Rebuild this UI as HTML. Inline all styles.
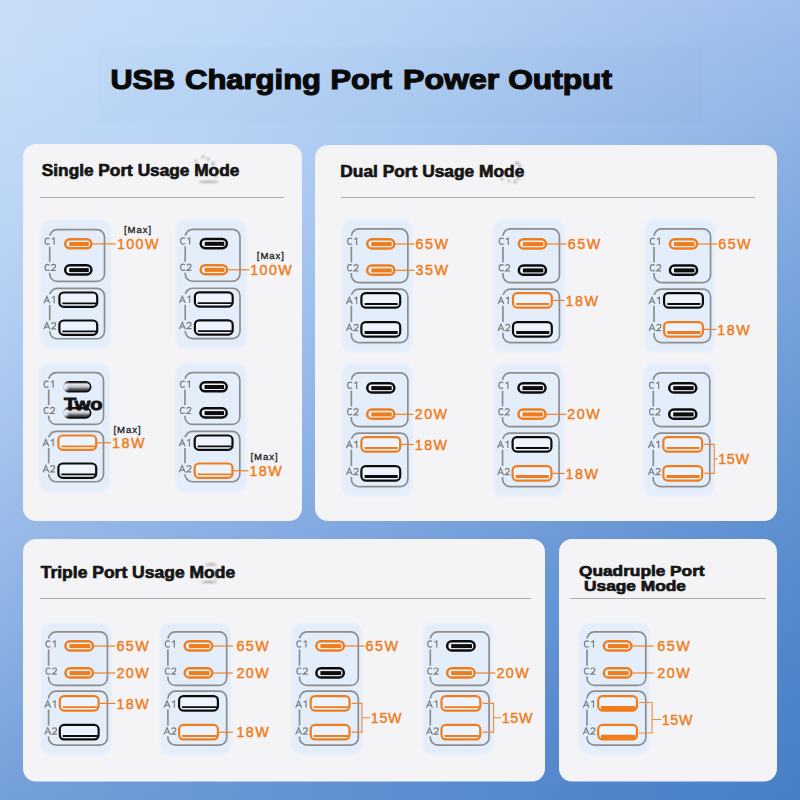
<!DOCTYPE html><html><head><meta charset="utf-8"><style>
html,body{margin:0;padding:0;width:800px;height:800px;overflow:hidden;}
body{background:#87ade0;position:relative;}
.bg{position:absolute;left:0;width:800px;}
svg{position:absolute;left:0;top:0;font-family:"Liberation Sans", sans-serif;}
</style></head><body>
<div class="bg" style="top:0px;height:8px;background:linear-gradient(90deg,#c7dcf8 0.0%,#c1d9f8 25.0%,#b7d2f5 50.0%,#abc8ef 75.0%,#9fbeeb 100.0%)"></div>
<div class="bg" style="top:8px;height:8px;background:linear-gradient(90deg,#c7dcf8 0.0%,#c1d9f8 25.0%,#b6d1f4 50.0%,#aac7ef 75.0%,#9ebdea 100.0%)"></div>
<div class="bg" style="top:16px;height:8px;background:linear-gradient(90deg,#c7dcf8 0.0%,#c0d9f8 25.0%,#b6d1f4 50.0%,#a9c7ef 75.0%,#9dbdea 100.0%)"></div>
<div class="bg" style="top:24px;height:8px;background:linear-gradient(90deg,#c7dcf8 0.0%,#c0d8f8 25.0%,#b5d0f4 50.0%,#a8c6ee 75.0%,#9bbce9 100.0%)"></div>
<div class="bg" style="top:32px;height:8px;background:linear-gradient(90deg,#c6dcf8 0.0%,#bfd8f8 25.0%,#b4d0f4 50.0%,#a7c6ee 75.0%,#9abbe9 100.0%)"></div>
<div class="bg" style="top:40px;height:8px;background:linear-gradient(90deg,#c6dcf8 0.0%,#bed8f8 25.0%,#b3d0f3 50.0%,#a6c5ee 75.0%,#99bae8 100.0%)"></div>
<div class="bg" style="top:48px;height:8px;background:linear-gradient(90deg,#c6dcf8 0.0%,#bed7f7 25.0%,#b2cff3 50.0%,#a5c4ed 75.0%,#98bae8 100.0%)"></div>
<div class="bg" style="top:56px;height:8px;background:linear-gradient(90deg,#c5dbf8 0.0%,#bdd7f7 25.0%,#b2cef3 50.0%,#a4c4ed 75.0%,#97b9e8 100.0%)"></div>
<div class="bg" style="top:64px;height:8px;background:linear-gradient(90deg,#c5dbf8 0.0%,#bdd7f7 25.0%,#b1cef3 50.0%,#a3c3ed 75.0%,#96b8e7 100.0%)"></div>
<div class="bg" style="top:72px;height:8px;background:linear-gradient(90deg,#c4dbf8 0.0%,#bcd6f7 25.0%,#b0cdf2 50.0%,#a2c3ec 75.0%,#95b8e7 100.0%)"></div>
<div class="bg" style="top:80px;height:8px;background:linear-gradient(90deg,#c4dbf8 0.0%,#bbd6f7 25.0%,#afcdf2 50.0%,#a2c2ec 75.0%,#94b7e6 100.0%)"></div>
<div class="bg" style="top:88px;height:8px;background:linear-gradient(90deg,#c4dbf8 0.0%,#bbd5f6 25.0%,#aeccf2 50.0%,#a1c1eb 75.0%,#93b6e6 100.0%)"></div>
<div class="bg" style="top:96px;height:8px;background:linear-gradient(90deg,#c3daf7 0.0%,#bad5f6 25.0%,#aeccf1 50.0%,#a0c1eb 75.0%,#92b5e6 100.0%)"></div>
<div class="bg" style="top:104px;height:8px;background:linear-gradient(90deg,#c3daf7 0.0%,#b9d5f6 25.0%,#adcbf1 50.0%,#9fc0eb 75.0%,#91b5e5 100.0%)"></div>
<div class="bg" style="top:112px;height:8px;background:linear-gradient(90deg,#c2daf7 0.0%,#b9d4f6 25.0%,#accbf1 50.0%,#9ebfea 75.0%,#8fb4e5 100.0%)"></div>
<div class="bg" style="top:120px;height:8px;background:linear-gradient(90deg,#c2d9f7 0.0%,#b8d4f6 25.0%,#abcaf1 50.0%,#9dbfea 75.0%,#8eb3e4 100.0%)"></div>
<div class="bg" style="top:128px;height:8px;background:linear-gradient(90deg,#c1d9f7 0.0%,#b7d3f5 25.0%,#aac9f0 50.0%,#9cbeea 75.0%,#8db3e4 100.0%)"></div>
<div class="bg" style="top:136px;height:8px;background:linear-gradient(90deg,#c1d9f7 0.0%,#b7d3f5 25.0%,#a9c9f0 50.0%,#9bbde9 75.0%,#8cb2e3 100.0%)"></div>
<div class="bg" style="top:144px;height:8px;background:linear-gradient(90deg,#c0d8f7 0.0%,#b6d2f5 25.0%,#a9c8f0 50.0%,#9abce9 75.0%,#8bb1e3 100.0%)"></div>
<div class="bg" style="top:152px;height:8px;background:linear-gradient(90deg,#c0d8f7 0.0%,#b5d2f5 25.0%,#a8c7ef 50.0%,#99bce8 75.0%,#8ab0e3 100.0%)"></div>
<div class="bg" style="top:160px;height:8px;background:linear-gradient(90deg,#bfd8f6 0.0%,#b5d1f4 25.0%,#a7c7ef 50.0%,#98bbe8 75.0%,#89b0e2 100.0%)"></div>
<div class="bg" style="top:168px;height:8px;background:linear-gradient(90deg,#bed7f6 0.0%,#b4d0f4 25.0%,#a6c6ef 50.0%,#97bae8 75.0%,#88afe2 100.0%)"></div>
<div class="bg" style="top:176px;height:8px;background:linear-gradient(90deg,#bed7f6 0.0%,#b3d0f4 25.0%,#a5c5ee 50.0%,#96bae7 75.0%,#87aee1 100.0%)"></div>
<div class="bg" style="top:184px;height:8px;background:linear-gradient(90deg,#bdd6f6 0.0%,#b2cff4 25.0%,#a4c5ee 50.0%,#95b9e7 75.0%,#86ade1 100.0%)"></div>
<div class="bg" style="top:192px;height:8px;background:linear-gradient(90deg,#bdd6f6 0.0%,#b2cff3 25.0%,#a3c4ee 50.0%,#94b8e7 75.0%,#85ace0 100.0%)"></div>
<div class="bg" style="top:200px;height:8px;background:linear-gradient(90deg,#bcd6f6 0.0%,#b1cef3 25.0%,#a2c3ed 50.0%,#93b7e6 75.0%,#84ace0 100.0%)"></div>
<div class="bg" style="top:208px;height:8px;background:linear-gradient(90deg,#bbd5f5 0.0%,#b0cef3 25.0%,#a2c3ed 50.0%,#92b7e6 75.0%,#83abe0 100.0%)"></div>
<div class="bg" style="top:216px;height:8px;background:linear-gradient(90deg,#bbd5f5 0.0%,#afcdf3 25.0%,#a1c2ed 50.0%,#91b6e5 75.0%,#81aadf 100.0%)"></div>
<div class="bg" style="top:224px;height:8px;background:linear-gradient(90deg,#bad4f5 0.0%,#aeccf2 25.0%,#a0c1ec 50.0%,#90b5e5 75.0%,#80a9df 100.0%)"></div>
<div class="bg" style="top:232px;height:8px;background:linear-gradient(90deg,#b9d4f5 0.0%,#aeccf2 25.0%,#9fc1ec 50.0%,#8fb4e5 75.0%,#7fa9de 100.0%)"></div>
<div class="bg" style="top:240px;height:8px;background:linear-gradient(90deg,#b9d3f4 0.0%,#adcbf2 25.0%,#9ec0ec 50.0%,#8eb4e4 75.0%,#7ea8de 100.0%)"></div>
<div class="bg" style="top:248px;height:8px;background:linear-gradient(90deg,#b8d3f4 0.0%,#accaf1 25.0%,#9dbfeb 50.0%,#8db3e4 75.0%,#7da7dd 100.0%)"></div>
<div class="bg" style="top:256px;height:8px;background:linear-gradient(90deg,#b7d2f4 0.0%,#abcaf1 25.0%,#9cbeeb 50.0%,#8cb2e3 75.0%,#7ca6dd 100.0%)"></div>
<div class="bg" style="top:264px;height:8px;background:linear-gradient(90deg,#b7d1f4 0.0%,#aac9f1 25.0%,#9bbeea 50.0%,#8bb1e3 75.0%,#7ba6dd 100.0%)"></div>
<div class="bg" style="top:272px;height:8px;background:linear-gradient(90deg,#b6d1f3 0.0%,#a9c8f0 25.0%,#9abdea 50.0%,#8ab0e3 75.0%,#7aa5dc 100.0%)"></div>
<div class="bg" style="top:280px;height:8px;background:linear-gradient(90deg,#b5d0f3 0.0%,#a9c8f0 25.0%,#99bcea 50.0%,#89b0e2 75.0%,#79a4dc 100.0%)"></div>
<div class="bg" style="top:288px;height:8px;background:linear-gradient(90deg,#b4d0f3 0.0%,#a8c7f0 25.0%,#98bbe9 50.0%,#88afe2 75.0%,#78a3db 100.0%)"></div>
<div class="bg" style="top:296px;height:8px;background:linear-gradient(90deg,#b3cff3 0.0%,#a7c6ef 25.0%,#97bbe9 50.0%,#87aee1 75.0%,#77a3db 100.0%)"></div>
<div class="bg" style="top:304px;height:8px;background:linear-gradient(90deg,#b3cff2 0.0%,#a6c6ef 25.0%,#96bae9 50.0%,#86ade1 75.0%,#76a2db 100.0%)"></div>
<div class="bg" style="top:312px;height:8px;background:linear-gradient(90deg,#b2cef2 0.0%,#a5c5ef 25.0%,#95b9e8 50.0%,#85ade1 75.0%,#75a1da 100.0%)"></div>
<div class="bg" style="top:320px;height:8px;background:linear-gradient(90deg,#b1cdf2 0.0%,#a4c4ee 25.0%,#94b8e8 50.0%,#84ace0 75.0%,#74a0da 100.0%)"></div>
<div class="bg" style="top:328px;height:8px;background:linear-gradient(90deg,#b0cdf2 0.0%,#a3c4ee 25.0%,#94b8e7 50.0%,#83abe0 75.0%,#73a0d9 100.0%)"></div>
<div class="bg" style="top:336px;height:8px;background:linear-gradient(90deg,#afccf1 0.0%,#a2c3ee 25.0%,#93b7e7 50.0%,#82aadf 75.0%,#729fd9 100.0%)"></div>
<div class="bg" style="top:344px;height:8px;background:linear-gradient(90deg,#afcbf1 0.0%,#a1c2ed 25.0%,#92b6e7 50.0%,#81a9df 75.0%,#719ed8 100.0%)"></div>
<div class="bg" style="top:352px;height:8px;background:linear-gradient(90deg,#aecbf1 0.0%,#a1c1ed 25.0%,#91b5e6 50.0%,#80a9df 75.0%,#709dd8 100.0%)"></div>
<div class="bg" style="top:360px;height:8px;background:linear-gradient(90deg,#adcaf0 0.0%,#a0c1ed 25.0%,#90b5e6 50.0%,#7fa8de 75.0%,#6f9dd8 100.0%)"></div>
<div class="bg" style="top:368px;height:8px;background:linear-gradient(90deg,#acc9f0 0.0%,#9fc0ec 25.0%,#8fb4e6 50.0%,#7ea7de 75.0%,#6e9cd7 100.0%)"></div>
<div class="bg" style="top:376px;height:8px;background:linear-gradient(90deg,#abc9f0 0.0%,#9ebfec 25.0%,#8eb3e5 50.0%,#7da6dd 75.0%,#6d9bd7 100.0%)"></div>
<div class="bg" style="top:384px;height:8px;background:linear-gradient(90deg,#aac8ef 0.0%,#9dbeec 25.0%,#8db2e5 50.0%,#7ca6dd 75.0%,#6c9ad6 100.0%)"></div>
<div class="bg" style="top:392px;height:8px;background:linear-gradient(90deg,#a9c7ef 0.0%,#9cbeeb 25.0%,#8cb1e4 50.0%,#7ba5dd 75.0%,#6b9ad6 100.0%)"></div>
<div class="bg" style="top:400px;height:8px;background:linear-gradient(90deg,#a8c7ef 0.0%,#9bbdeb 25.0%,#8bb1e4 50.0%,#7aa4dc 75.0%,#6a99d6 100.0%)"></div>
<div class="bg" style="top:408px;height:8px;background:linear-gradient(90deg,#a8c6ee 0.0%,#9abcea 25.0%,#8ab0e4 50.0%,#79a3dc 75.0%,#6998d5 100.0%)"></div>
<div class="bg" style="top:416px;height:8px;background:linear-gradient(90deg,#a7c5ee 0.0%,#99bbea 25.0%,#89afe3 50.0%,#78a2db 75.0%,#6897d5 100.0%)"></div>
<div class="bg" style="top:424px;height:8px;background:linear-gradient(90deg,#a6c4ee 0.0%,#98baea 25.0%,#88aee3 50.0%,#77a2db 75.0%,#6897d5 100.0%)"></div>
<div class="bg" style="top:432px;height:8px;background:linear-gradient(90deg,#a5c4ed 0.0%,#97bae9 25.0%,#87ade2 50.0%,#76a1db 75.0%,#6796d4 100.0%)"></div>
<div class="bg" style="top:440px;height:8px;background:linear-gradient(90deg,#a4c3ed 0.0%,#96b9e9 25.0%,#86ade2 50.0%,#75a0da 75.0%,#6695d4 100.0%)"></div>
<div class="bg" style="top:448px;height:8px;background:linear-gradient(90deg,#a3c2ec 0.0%,#95b8e8 25.0%,#85ace2 50.0%,#749fda 75.0%,#6595d3 100.0%)"></div>
<div class="bg" style="top:456px;height:8px;background:linear-gradient(90deg,#a2c2ec 0.0%,#94b7e8 25.0%,#84abe1 50.0%,#739fd9 75.0%,#6494d3 100.0%)"></div>
<div class="bg" style="top:464px;height:8px;background:linear-gradient(90deg,#a1c1ec 0.0%,#93b7e8 25.0%,#83aae1 50.0%,#729ed9 75.0%,#6393d3 100.0%)"></div>
<div class="bg" style="top:472px;height:8px;background:linear-gradient(90deg,#a0c0eb 0.0%,#92b6e7 25.0%,#82a9e0 50.0%,#719dd9 75.0%,#6293d2 100.0%)"></div>
<div class="bg" style="top:480px;height:8px;background:linear-gradient(90deg,#9fbfeb 0.0%,#91b5e7 25.0%,#81a9e0 50.0%,#709cd8 75.0%,#6192d2 100.0%)"></div>
<div class="bg" style="top:488px;height:8px;background:linear-gradient(90deg,#9ebeeb 0.0%,#90b4e6 25.0%,#80a8df 50.0%,#709cd8 75.0%,#6091d2 100.0%)"></div>
<div class="bg" style="top:496px;height:8px;background:linear-gradient(90deg,#9dbeea 0.0%,#8fb3e6 25.0%,#7fa7df 50.0%,#6f9bd7 75.0%,#6091d1 100.0%)"></div>
<div class="bg" style="top:504px;height:8px;background:linear-gradient(90deg,#9cbdea 0.0%,#8eb3e6 25.0%,#7ea6df 50.0%,#6e9ad7 75.0%,#5f90d1 100.0%)"></div>
<div class="bg" style="top:512px;height:8px;background:linear-gradient(90deg,#9bbce9 0.0%,#8db2e5 25.0%,#7da5de 50.0%,#6d99d7 75.0%,#5e8fd0 100.0%)"></div>
<div class="bg" style="top:520px;height:8px;background:linear-gradient(90deg,#9abbe9 0.0%,#8cb1e5 25.0%,#7ca5de 50.0%,#6c99d6 75.0%,#5d8fd0 100.0%)"></div>
<div class="bg" style="top:528px;height:8px;background:linear-gradient(90deg,#99bbe8 0.0%,#8bb0e4 25.0%,#7ba4dd 50.0%,#6b98d6 75.0%,#5c8ed0 100.0%)"></div>
<div class="bg" style="top:536px;height:8px;background:linear-gradient(90deg,#98bae8 0.0%,#8aafe4 25.0%,#7aa3dd 50.0%,#6a97d5 75.0%,#5b8ecf 100.0%)"></div>
<div class="bg" style="top:544px;height:8px;background:linear-gradient(90deg,#97b9e8 0.0%,#89aee3 25.0%,#79a2dd 50.0%,#6997d5 75.0%,#5b8dcf 100.0%)"></div>
<div class="bg" style="top:552px;height:8px;background:linear-gradient(90deg,#96b8e7 0.0%,#88aee3 25.0%,#78a2dc 50.0%,#6896d5 75.0%,#5a8ccf 100.0%)"></div>
<div class="bg" style="top:560px;height:8px;background:linear-gradient(90deg,#95b7e7 0.0%,#87ade3 25.0%,#77a1dc 50.0%,#6795d4 75.0%,#598cce 100.0%)"></div>
<div class="bg" style="top:568px;height:8px;background:linear-gradient(90deg,#93b7e6 0.0%,#86ace2 25.0%,#76a0db 50.0%,#6694d4 75.0%,#588bce 100.0%)"></div>
<div class="bg" style="top:576px;height:8px;background:linear-gradient(90deg,#92b6e6 0.0%,#85abe2 25.0%,#759fdb 50.0%,#6694d3 75.0%,#588bce 100.0%)"></div>
<div class="bg" style="top:584px;height:8px;background:linear-gradient(90deg,#91b5e5 0.0%,#84aae1 25.0%,#749fda 50.0%,#6593d3 75.0%,#578acd 100.0%)"></div>
<div class="bg" style="top:592px;height:8px;background:linear-gradient(90deg,#90b4e5 0.0%,#83aae1 25.0%,#739eda 50.0%,#6492d3 75.0%,#568acd 100.0%)"></div>
<div class="bg" style="top:600px;height:8px;background:linear-gradient(90deg,#8fb3e4 0.0%,#82a9e0 25.0%,#729dda 50.0%,#6392d2 75.0%,#5589cd 100.0%)"></div>
<div class="bg" style="top:608px;height:8px;background:linear-gradient(90deg,#8eb2e4 0.0%,#81a8e0 25.0%,#719cd9 50.0%,#6291d2 75.0%,#5589cc 100.0%)"></div>
<div class="bg" style="top:616px;height:8px;background:linear-gradient(90deg,#8db2e4 0.0%,#80a7df 25.0%,#709cd9 50.0%,#6190d2 75.0%,#5488cc 100.0%)"></div>
<div class="bg" style="top:624px;height:8px;background:linear-gradient(90deg,#8cb1e3 0.0%,#7ea6df 25.0%,#6f9bd8 50.0%,#6090d1 75.0%,#5388cc 100.0%)"></div>
<div class="bg" style="top:632px;height:8px;background:linear-gradient(90deg,#8bb0e3 0.0%,#7da6df 25.0%,#6e9ad8 50.0%,#608fd1 75.0%,#5287cc 100.0%)"></div>
<div class="bg" style="top:640px;height:8px;background:linear-gradient(90deg,#8aafe2 0.0%,#7ca5de 25.0%,#6e99d8 50.0%,#5f8fd0 75.0%,#5287cb 100.0%)"></div>
<div class="bg" style="top:648px;height:8px;background:linear-gradient(90deg,#88aee2 0.0%,#7ba4de 25.0%,#6d99d7 50.0%,#5e8ed0 75.0%,#5186cb 100.0%)"></div>
<div class="bg" style="top:656px;height:8px;background:linear-gradient(90deg,#87aee1 0.0%,#7aa3dd 25.0%,#6c98d7 50.0%,#5d8dd0 75.0%,#5086cb 100.0%)"></div>
<div class="bg" style="top:664px;height:8px;background:linear-gradient(90deg,#86ade1 0.0%,#79a3dd 25.0%,#6b97d6 50.0%,#5c8dcf 75.0%,#5085ca 100.0%)"></div>
<div class="bg" style="top:672px;height:8px;background:linear-gradient(90deg,#85ace0 0.0%,#78a2dc 25.0%,#6a96d6 50.0%,#5b8ccf 75.0%,#4f85ca 100.0%)"></div>
<div class="bg" style="top:680px;height:8px;background:linear-gradient(90deg,#84abe0 0.0%,#77a1dc 25.0%,#6996d5 50.0%,#5b8ccf 75.0%,#4f84ca 100.0%)"></div>
<div class="bg" style="top:688px;height:8px;background:linear-gradient(90deg,#83aadf 0.0%,#76a0db 25.0%,#6895d5 50.0%,#5a8bce 75.0%,#4e84c9 100.0%)"></div>
<div class="bg" style="top:696px;height:8px;background:linear-gradient(90deg,#81aadf 0.0%,#759fdb 25.0%,#6794d5 50.0%,#598ace 75.0%,#4d84c9 100.0%)"></div>
<div class="bg" style="top:704px;height:8px;background:linear-gradient(90deg,#80a9de 0.0%,#749fda 25.0%,#6694d4 50.0%,#588ace 75.0%,#4d83c9 100.0%)"></div>
<div class="bg" style="top:712px;height:8px;background:linear-gradient(90deg,#7fa8de 0.0%,#739eda 25.0%,#6593d4 50.0%,#5889cd 75.0%,#4c83c9 100.0%)"></div>
<div class="bg" style="top:720px;height:8px;background:linear-gradient(90deg,#7ea7dd 0.0%,#729dd9 25.0%,#6492d3 50.0%,#5789cd 75.0%,#4c82c8 100.0%)"></div>
<div class="bg" style="top:728px;height:8px;background:linear-gradient(90deg,#7da6dd 0.0%,#719cd9 25.0%,#6392d3 50.0%,#5688cd 75.0%,#4b82c8 100.0%)"></div>
<div class="bg" style="top:736px;height:8px;background:linear-gradient(90deg,#7ca5dc 0.0%,#709cd9 25.0%,#6291d3 50.0%,#5588cc 75.0%,#4b82c8 100.0%)"></div>
<div class="bg" style="top:744px;height:8px;background:linear-gradient(90deg,#7aa5dc 0.0%,#6f9bd8 25.0%,#6191d2 50.0%,#5587cc 75.0%,#4a81c8 100.0%)"></div>
<div class="bg" style="top:752px;height:8px;background:linear-gradient(90deg,#79a4db 0.0%,#6e9ad8 25.0%,#6190d2 50.0%,#5487cc 75.0%,#4a81c7 100.0%)"></div>
<div class="bg" style="top:760px;height:8px;background:linear-gradient(90deg,#78a3db 0.0%,#6d99d7 25.0%,#608fd1 50.0%,#5386cb 75.0%,#4981c7 100.0%)"></div>
<div class="bg" style="top:768px;height:8px;background:linear-gradient(90deg,#77a2da 0.0%,#6c99d7 25.0%,#5f8fd1 50.0%,#5386cb 75.0%,#4981c7 100.0%)"></div>
<div class="bg" style="top:776px;height:8px;background:linear-gradient(90deg,#76a1da 0.0%,#6a98d6 25.0%,#5e8ed0 50.0%,#5286cb 75.0%,#4880c7 100.0%)"></div>
<div class="bg" style="top:784px;height:8px;background:linear-gradient(90deg,#75a1d9 0.0%,#6997d6 25.0%,#5d8dd0 50.0%,#5185ca 75.0%,#4880c7 100.0%)"></div>
<div class="bg" style="top:792px;height:8px;background:linear-gradient(90deg,#73a0d8 0.0%,#6897d5 25.0%,#5c8dd0 50.0%,#5185ca 75.0%,#4780c6 100.0%)"></div>
<svg width="800" height="800" viewBox="0 0 800 800">
<defs><filter id="soft" x="-10%" y="-10%" width="120%" height="120%"><feGaussianBlur stdDeviation="1.2"/></filter>
<filter id="blur1" x="-30%" y="-60%" width="160%" height="220%"><feGaussianBlur stdDeviation="1.1"/></filter>
<filter id="blur08" x="-100%" y="-100%" width="300%" height="300%"><feGaussianBlur stdDeviation="0.8"/></filter>
<filter id="blur05" x="-20%" y="-50%" width="140%" height="200%"><feGaussianBlur stdDeviation="0.45"/></filter>
<filter id="blur2" x="-50%" y="-50%" width="200%" height="200%"><feGaussianBlur stdDeviation="2"/></filter>
<linearGradient id="metal" x1="0" y1="0" x2="0" y2="1"><stop offset="0" stop-color="#222"/><stop offset="0.25" stop-color="#e6e6e8"/><stop offset="0.5" stop-color="#c4c4c8"/><stop offset="0.78" stop-color="#4a4a50"/><stop offset="1" stop-color="#1a1a1a"/></linearGradient></defs>
<rect x="99" y="47" width="604" height="75.5" fill="#1a3a70" opacity="0.01"/>
<text x="110.50" y="88.80" font-size="28.4" fill="#0a0a0a" font-weight="bold" text-anchor="start" stroke="#0a0a0a" stroke-width="1.2" textLength="64.5" lengthAdjust="spacingAndGlyphs">USB</text>
<text x="185.00" y="88.80" font-size="28.4" fill="#0a0a0a" font-weight="bold" text-anchor="start" stroke="#0a0a0a" stroke-width="1.2" textLength="136.0" lengthAdjust="spacingAndGlyphs">Charging</text>
<text x="330.50" y="88.80" font-size="28.4" fill="#0a0a0a" font-weight="bold" text-anchor="start" stroke="#0a0a0a" stroke-width="1.2" textLength="61.5" lengthAdjust="spacingAndGlyphs">Port</text>
<text x="403.00" y="88.80" font-size="28.4" fill="#0a0a0a" font-weight="bold" text-anchor="start" stroke="#0a0a0a" stroke-width="1.2" textLength="96.2" lengthAdjust="spacingAndGlyphs">Power</text>
<text x="508.20" y="88.80" font-size="28.4" fill="#0a0a0a" font-weight="bold" text-anchor="start" stroke="#0a0a0a" stroke-width="1.2" textLength="103.8" lengthAdjust="spacingAndGlyphs">Output</text>
<rect x="23.00" y="144.00" width="279.00" height="377.00" rx="13.00" fill="#f4f4f6"/>
<rect x="315.00" y="145.00" width="462.00" height="376.00" rx="13.00" fill="#f4f4f6"/>
<rect x="23.00" y="539.00" width="522.00" height="242.50" rx="13.00" fill="#f4f4f6"/>
<rect x="559.00" y="539.00" width="218.00" height="242.50" rx="13.00" fill="#f4f4f6"/>
<text x="41.80" y="175.80" font-size="15.6" fill="#151515" font-weight="bold" text-anchor="start" id="h1" textLength="197.5" stroke="#151515" stroke-width="0.65" lengthAdjust="spacingAndGlyphs">Single Port Usage Mode</text>
<text x="340.30" y="176.80" font-size="15.6" fill="#151515" font-weight="bold" text-anchor="start" id="h2" textLength="184" stroke="#151515" stroke-width="0.65" lengthAdjust="spacingAndGlyphs">Dual Port Usage Mode</text>
<text x="40.70" y="578.00" font-size="15.6" fill="#151515" font-weight="bold" text-anchor="start" id="h3" textLength="194.5" stroke="#151515" stroke-width="0.65" lengthAdjust="spacingAndGlyphs">Triple Port Usage Mode</text>
<text x="579.10" y="575.60" font-size="14.0" fill="#151515" font-weight="bold" text-anchor="start" id="h4a" textLength="125.5" stroke="#151515" stroke-width="0.65" lengthAdjust="spacingAndGlyphs">Quadruple Port</text>
<text x="584.00" y="590.70" font-size="14.0" fill="#151515" font-weight="bold" text-anchor="start" id="h4b" textLength="102" stroke="#151515" stroke-width="0.65" lengthAdjust="spacingAndGlyphs">Usage Mode</text>
<g stroke="#acacb0" stroke-width="1.1">
<line x1="40" y1="197.5" x2="284" y2="197.5"/>
<line x1="341" y1="197.5" x2="755" y2="197.5"/>
<line x1="40" y1="598.5" x2="531" y2="598.5"/>
<line x1="569.6" y1="598.5" x2="766" y2="598.5"/>
</g>
<g fill="#5a5a5a" filter="url(#blur08)" opacity="0.5">
<ellipse cx="203" cy="157" rx="1.5" ry="1.2"/>
<ellipse cx="208" cy="159" rx="1.5" ry="1.5"/>
<ellipse cx="196" cy="161" rx="1.3" ry="1.3"/>
<ellipse cx="213" cy="164" rx="1.5" ry="2"/>
<ellipse cx="209" cy="181.8" rx="10" ry="1.0"/>
<ellipse cx="216" cy="176" rx="1.2" ry="1.5"/>
<ellipse cx="517" cy="163" rx="2" ry="1.5"/>
<ellipse cx="520" cy="166" rx="1.2" ry="2"/>
<ellipse cx="502" cy="179" rx="1.5" ry="1.2"/>
<ellipse cx="509" cy="181" rx="1.5" ry="1.2"/>
<ellipse cx="515" cy="182" rx="1.5" ry="1.5"/>
<ellipse cx="518" cy="178" rx="1.2" ry="2"/>
<ellipse cx="211" cy="564.5" rx="6" ry="1.2"/>
<ellipse cx="209" cy="582" rx="8" ry="1.2"/>
<ellipse cx="216" cy="574" rx="1" ry="6"/>
</g>
<rect x="40.00" y="220.00" width="71.10" height="129.30" rx="10.00" fill="#e4eefb" filter="url(#soft)"/>
<rect x="49.70" y="229.65" width="54.80" height="51.80" rx="7.50" fill="none" stroke="#8d8d8d" stroke-width="1.7"/>
<rect x="49.70" y="288.45" width="54.80" height="50.30" rx="7.50" fill="none" stroke="#8d8d8d" stroke-width="1.7"/>
<rect x="47.50" y="235.80" width="4.4" height="10.8" fill="#e4eefb"/>
<path d="M49.50,238.90 C49.00,238.30 48.20,238.10 47.50,238.10 C45.90,238.10 45.10,239.40 45.10,241.20 C45.10,243.00 45.90,244.30 47.50,244.30 C48.20,244.30 49.00,244.10 49.50,243.50 M51.85,239.30 L54.15,238.10 V244.80" fill="none" stroke="#7f7f7f" stroke-width="1.2"/>
<rect x="47.50" y="262.00" width="4.4" height="10.8" fill="#e4eefb"/>
<path d="M49.50,265.10 C49.00,264.50 48.20,264.30 47.50,264.30 C45.90,264.30 45.10,265.60 45.10,267.40 C45.10,269.20 45.90,270.50 47.50,270.50 C48.20,270.50 49.00,270.30 49.50,269.70 M51.45,265.80 C51.65,264.80 52.55,264.30 53.55,264.30 C54.75,264.30 55.55,265.10 55.55,266.10 C55.55,267.10 54.85,267.70 53.85,268.50 L51.55,270.50 L55.95,270.50" fill="none" stroke="#7f7f7f" stroke-width="1.2"/>
<rect x="47.50" y="294.25" width="4.4" height="10.8" fill="#e4eefb"/>
<path d="M43.90,303.25 L46.85,296.45 L49.80,303.25 M45.10,300.95 H48.60 M51.90,297.75 L54.20,296.55 V303.25" fill="none" stroke="#7f7f7f" stroke-width="1.2"/>
<rect x="47.50" y="320.35" width="4.4" height="10.8" fill="#e4eefb"/>
<path d="M43.90,329.35 L46.85,322.55 L49.80,329.35 M45.10,327.05 H48.60 M51.50,324.15 C51.70,323.15 52.60,322.65 53.60,322.65 C54.80,322.65 55.60,323.45 55.60,324.45 C55.60,325.45 54.90,326.05 53.90,326.85 L51.60,328.85 L56.00,328.85" fill="none" stroke="#7f7f7f" stroke-width="1.2"/>
<rect x="65.20" y="239.25" width="26.20" height="9.10" rx="4.55" fill="#eef4fd" stroke="#ef7d1d" stroke-width="2.5"/>
<rect x="69.25" y="242.00" width="19.50" height="4.0" fill="#ef7d1d"/>
<rect x="65.20" y="265.35" width="26.20" height="9.10" rx="4.55" fill="#eef4fd" stroke="#0d0d0d" stroke-width="2.5"/>
<rect x="69.25" y="268.10" width="19.50" height="4.0" fill="#0d0d0d"/>
<rect x="59.40" y="292.50" width="37.80" height="14.30" rx="4.30" fill="#eef4fd" stroke="#0d0d0d" stroke-width="2.2"/>
<path d="M62.30,303.35 H95.30 Q96.50,303.85 96.70,304.70" fill="none" stroke="#0d0d0d" stroke-width="1.9"/>
<rect x="59.40" y="320.50" width="37.80" height="14.30" rx="4.30" fill="#eef4fd" stroke="#0d0d0d" stroke-width="2.2"/>
<path d="M62.30,331.35 H95.30 Q96.50,331.85 96.70,332.70" fill="none" stroke="#0d0d0d" stroke-width="1.9"/>
<line x1="92.35" y1="243.90" x2="116.00" y2="243.90" stroke="#ef7d1d" stroke-width="1.15"/>
<text x="117.00" y="249.00" font-size="14.3" fill="#ef7d1d" font-weight="normal" text-anchor="start" letter-spacing="1.35" stroke="#ef7d1d" stroke-width="0.45">100W</text>
<text x="138.00" y="233.00" font-size="9.6" fill="#222" font-weight="normal" text-anchor="middle" letter-spacing="0.9" stroke="#1a1a1a" stroke-width="0.3">[Max]</text>
<rect x="175.50" y="219.80" width="71.10" height="129.30" rx="10.00" fill="#e4eefb" filter="url(#soft)"/>
<rect x="185.20" y="229.45" width="54.80" height="51.80" rx="7.50" fill="none" stroke="#8d8d8d" stroke-width="1.7"/>
<rect x="185.20" y="288.25" width="54.80" height="50.30" rx="7.50" fill="none" stroke="#8d8d8d" stroke-width="1.7"/>
<rect x="183.00" y="235.60" width="4.4" height="10.8" fill="#e4eefb"/>
<path d="M185.00,238.70 C184.50,238.10 183.70,237.90 183.00,237.90 C181.40,237.90 180.60,239.20 180.60,241.00 C180.60,242.80 181.40,244.10 183.00,244.10 C183.70,244.10 184.50,243.90 185.00,243.30 M187.35,239.10 L189.65,237.90 V244.60" fill="none" stroke="#7f7f7f" stroke-width="1.2"/>
<rect x="183.00" y="261.80" width="4.4" height="10.8" fill="#e4eefb"/>
<path d="M185.00,264.90 C184.50,264.30 183.70,264.10 183.00,264.10 C181.40,264.10 180.60,265.40 180.60,267.20 C180.60,269.00 181.40,270.30 183.00,270.30 C183.70,270.30 184.50,270.10 185.00,269.50 M186.95,265.60 C187.15,264.60 188.05,264.10 189.05,264.10 C190.25,264.10 191.05,264.90 191.05,265.90 C191.05,266.90 190.35,267.50 189.35,268.30 L187.05,270.30 L191.45,270.30" fill="none" stroke="#7f7f7f" stroke-width="1.2"/>
<rect x="183.00" y="294.05" width="4.4" height="10.8" fill="#e4eefb"/>
<path d="M179.40,303.05 L182.35,296.25 L185.30,303.05 M180.60,300.75 H184.10 M187.40,297.55 L189.70,296.35 V303.05" fill="none" stroke="#7f7f7f" stroke-width="1.2"/>
<rect x="183.00" y="320.15" width="4.4" height="10.8" fill="#e4eefb"/>
<path d="M179.40,329.15 L182.35,322.35 L185.30,329.15 M180.60,326.85 H184.10 M187.00,323.95 C187.20,322.95 188.10,322.45 189.10,322.45 C190.30,322.45 191.10,323.25 191.10,324.25 C191.10,325.25 190.40,325.85 189.40,326.65 L187.10,328.65 L191.50,328.65" fill="none" stroke="#7f7f7f" stroke-width="1.2"/>
<rect x="200.70" y="239.05" width="26.20" height="9.10" rx="4.55" fill="#eef4fd" stroke="#0d0d0d" stroke-width="2.5"/>
<rect x="204.75" y="241.80" width="19.50" height="4.0" fill="#0d0d0d"/>
<rect x="200.70" y="265.15" width="26.20" height="9.10" rx="4.55" fill="#eef4fd" stroke="#ef7d1d" stroke-width="2.5"/>
<rect x="204.75" y="267.90" width="19.50" height="4.0" fill="#ef7d1d"/>
<rect x="194.90" y="292.30" width="37.80" height="14.30" rx="4.30" fill="#eef4fd" stroke="#0d0d0d" stroke-width="2.2"/>
<path d="M197.80,303.15 H230.80 Q232.00,303.65 232.20,304.50" fill="none" stroke="#0d0d0d" stroke-width="1.9"/>
<rect x="194.90" y="320.30" width="37.80" height="14.30" rx="4.30" fill="#eef4fd" stroke="#0d0d0d" stroke-width="2.2"/>
<path d="M197.80,331.15 H230.80 Q232.00,331.65 232.20,332.50" fill="none" stroke="#0d0d0d" stroke-width="1.9"/>
<line x1="227.85" y1="269.80" x2="249.30" y2="269.80" stroke="#ef7d1d" stroke-width="1.15"/>
<text x="250.30" y="274.90" font-size="14.3" fill="#ef7d1d" font-weight="normal" text-anchor="start" letter-spacing="1.35" stroke="#ef7d1d" stroke-width="0.45">100W</text>
<text x="270.80" y="259.30" font-size="9.6" fill="#222" font-weight="normal" text-anchor="middle" letter-spacing="0.9" stroke="#1a1a1a" stroke-width="0.3">[Max]</text>
<rect x="39.00" y="363.00" width="71.10" height="129.30" rx="10.00" fill="#e4eefb" filter="url(#soft)"/>
<rect x="48.70" y="372.65" width="54.80" height="51.80" rx="7.50" fill="none" stroke="#8d8d8d" stroke-width="1.7"/>
<rect x="48.70" y="431.45" width="54.80" height="50.30" rx="7.50" fill="none" stroke="#8d8d8d" stroke-width="1.7"/>
<rect x="46.50" y="378.80" width="4.4" height="10.8" fill="#e4eefb"/>
<path d="M48.50,381.90 C48.00,381.30 47.20,381.10 46.50,381.10 C44.90,381.10 44.10,382.40 44.10,384.20 C44.10,386.00 44.90,387.30 46.50,387.30 C47.20,387.30 48.00,387.10 48.50,386.50 M50.85,382.30 L53.15,381.10 V387.80" fill="none" stroke="#7f7f7f" stroke-width="1.2"/>
<rect x="46.50" y="405.00" width="4.4" height="10.8" fill="#e4eefb"/>
<path d="M48.50,408.10 C48.00,407.50 47.20,407.30 46.50,407.30 C44.90,407.30 44.10,408.60 44.10,410.40 C44.10,412.20 44.90,413.50 46.50,413.50 C47.20,413.50 48.00,413.30 48.50,412.70 M50.45,408.80 C50.65,407.80 51.55,407.30 52.55,407.30 C53.75,407.30 54.55,408.10 54.55,409.10 C54.55,410.10 53.85,410.70 52.85,411.50 L50.55,413.50 L54.95,413.50" fill="none" stroke="#7f7f7f" stroke-width="1.2"/>
<rect x="46.50" y="437.25" width="4.4" height="10.8" fill="#e4eefb"/>
<path d="M42.90,446.25 L45.85,439.45 L48.80,446.25 M44.10,443.95 H47.60 M50.90,440.75 L53.20,439.55 V446.25" fill="none" stroke="#7f7f7f" stroke-width="1.2"/>
<rect x="46.50" y="463.35" width="4.4" height="10.8" fill="#e4eefb"/>
<path d="M42.90,472.35 L45.85,465.55 L48.80,472.35 M44.10,470.05 H47.60 M50.50,467.15 C50.70,466.15 51.60,465.65 52.60,465.65 C53.80,465.65 54.60,466.45 54.60,467.45 C54.60,468.45 53.90,469.05 52.90,469.85 L50.60,471.85 L55.00,471.85" fill="none" stroke="#7f7f7f" stroke-width="1.2"/>
<g filter="url(#blur05)">
<rect x="63.95" y="381.80" width="26.70" height="10.00" rx="5.00" fill="url(#metal)" stroke="#111" stroke-width="1.6"/>
<rect x="62.45" y="383.00" width="5" height="7.60" fill="#e4eefb" filter="url(#blur1)"/>
</g>
<g filter="url(#blur05)">
<rect x="63.95" y="407.90" width="26.70" height="10.00" rx="5.00" fill="url(#metal)" stroke="#111" stroke-width="1.6"/>
<rect x="62.45" y="409.10" width="5" height="7.60" fill="#e4eefb" filter="url(#blur1)"/>
</g>
<rect x="58.40" y="435.50" width="37.80" height="14.30" rx="4.30" fill="#eef4fd" stroke="#ef7d1d" stroke-width="2.2"/>
<path d="M61.30,446.35 H94.30 Q95.50,446.85 95.70,447.70" fill="none" stroke="#ef7d1d" stroke-width="1.9"/>
<rect x="58.40" y="463.50" width="37.80" height="14.30" rx="4.30" fill="#eef4fd" stroke="#0d0d0d" stroke-width="2.2"/>
<path d="M61.30,474.35 H94.30 Q95.50,474.85 95.70,475.70" fill="none" stroke="#0d0d0d" stroke-width="1.9"/>
<line x1="97.00" y1="442.75" x2="111.00" y2="442.75" stroke="#ef7d1d" stroke-width="1.15"/>
<text x="112.00" y="447.85" font-size="14.3" fill="#ef7d1d" font-weight="normal" text-anchor="start" letter-spacing="1.5" stroke="#ef7d1d" stroke-width="0.45">18W</text>
<text x="127.50" y="433.30" font-size="9.6" fill="#222" font-weight="normal" text-anchor="middle" letter-spacing="0.9" stroke="#1a1a1a" stroke-width="0.3">[Max]</text>
<text x="64.00" y="409.50" font-size="17" fill="#111" font-weight="bold" text-anchor="start" id="two" stroke="#111" stroke-width="0.9" textLength="38.5" lengthAdjust="spacingAndGlyphs">Two</text>
<rect x="175.30" y="363.00" width="71.10" height="129.30" rx="10.00" fill="#e4eefb" filter="url(#soft)"/>
<rect x="185.00" y="372.65" width="54.80" height="51.80" rx="7.50" fill="none" stroke="#8d8d8d" stroke-width="1.7"/>
<rect x="185.00" y="431.45" width="54.80" height="50.30" rx="7.50" fill="none" stroke="#8d8d8d" stroke-width="1.7"/>
<rect x="182.80" y="378.80" width="4.4" height="10.8" fill="#e4eefb"/>
<path d="M184.80,381.90 C184.30,381.30 183.50,381.10 182.80,381.10 C181.20,381.10 180.40,382.40 180.40,384.20 C180.40,386.00 181.20,387.30 182.80,387.30 C183.50,387.30 184.30,387.10 184.80,386.50 M187.15,382.30 L189.45,381.10 V387.80" fill="none" stroke="#7f7f7f" stroke-width="1.2"/>
<rect x="182.80" y="405.00" width="4.4" height="10.8" fill="#e4eefb"/>
<path d="M184.80,408.10 C184.30,407.50 183.50,407.30 182.80,407.30 C181.20,407.30 180.40,408.60 180.40,410.40 C180.40,412.20 181.20,413.50 182.80,413.50 C183.50,413.50 184.30,413.30 184.80,412.70 M186.75,408.80 C186.95,407.80 187.85,407.30 188.85,407.30 C190.05,407.30 190.85,408.10 190.85,409.10 C190.85,410.10 190.15,410.70 189.15,411.50 L186.85,413.50 L191.25,413.50" fill="none" stroke="#7f7f7f" stroke-width="1.2"/>
<rect x="182.80" y="437.25" width="4.4" height="10.8" fill="#e4eefb"/>
<path d="M179.20,446.25 L182.15,439.45 L185.10,446.25 M180.40,443.95 H183.90 M187.20,440.75 L189.50,439.55 V446.25" fill="none" stroke="#7f7f7f" stroke-width="1.2"/>
<rect x="182.80" y="463.35" width="4.4" height="10.8" fill="#e4eefb"/>
<path d="M179.20,472.35 L182.15,465.55 L185.10,472.35 M180.40,470.05 H183.90 M186.80,467.15 C187.00,466.15 187.90,465.65 188.90,465.65 C190.10,465.65 190.90,466.45 190.90,467.45 C190.90,468.45 190.20,469.05 189.20,469.85 L186.90,471.85 L191.30,471.85" fill="none" stroke="#7f7f7f" stroke-width="1.2"/>
<rect x="200.50" y="382.25" width="26.20" height="9.10" rx="4.55" fill="#eef4fd" stroke="#0d0d0d" stroke-width="2.5"/>
<rect x="204.55" y="385.00" width="19.50" height="4.0" fill="#0d0d0d"/>
<rect x="200.50" y="408.35" width="26.20" height="9.10" rx="4.55" fill="#eef4fd" stroke="#0d0d0d" stroke-width="2.5"/>
<rect x="204.55" y="411.10" width="19.50" height="4.0" fill="#0d0d0d"/>
<rect x="194.70" y="435.50" width="37.80" height="14.30" rx="4.30" fill="#eef4fd" stroke="#0d0d0d" stroke-width="2.2"/>
<path d="M197.60,446.35 H230.60 Q231.80,446.85 232.00,447.70" fill="none" stroke="#0d0d0d" stroke-width="1.9"/>
<rect x="194.70" y="463.50" width="37.80" height="14.30" rx="4.30" fill="#eef4fd" stroke="#ef7d1d" stroke-width="2.2"/>
<path d="M197.60,474.35 H230.60 Q231.80,474.85 232.00,475.70" fill="none" stroke="#ef7d1d" stroke-width="1.9"/>
<line x1="233.30" y1="470.75" x2="248.40" y2="470.75" stroke="#ef7d1d" stroke-width="1.15"/>
<text x="249.40" y="475.85" font-size="14.3" fill="#ef7d1d" font-weight="normal" text-anchor="start" letter-spacing="1.5" stroke="#ef7d1d" stroke-width="0.45">18W</text>
<text x="264.50" y="459.60" font-size="9.6" fill="#222" font-weight="normal" text-anchor="middle" letter-spacing="0.9" stroke="#1a1a1a" stroke-width="0.3">[Max]</text>
<rect x="341.50" y="219.50" width="71.10" height="133.00" rx="10.00" fill="#e4eefb" filter="url(#soft)"/>
<rect x="351.35" y="228.85" width="56.50" height="53.80" rx="7.50" fill="none" stroke="#8d8d8d" stroke-width="1.7"/>
<rect x="351.35" y="289.05" width="56.50" height="53.60" rx="7.50" fill="none" stroke="#8d8d8d" stroke-width="1.7"/>
<rect x="349.15" y="235.90" width="4.4" height="10.8" fill="#e4eefb"/>
<path d="M352.00,239.00 C351.50,238.40 350.70,238.20 350.00,238.20 C348.40,238.20 347.60,239.50 347.60,241.30 C347.60,243.10 348.40,244.40 350.00,244.40 C350.70,244.40 351.50,244.20 352.00,243.60 M354.35,239.40 L356.65,238.20 V244.90" fill="none" stroke="#7f7f7f" stroke-width="1.2"/>
<rect x="349.15" y="262.30" width="4.4" height="10.8" fill="#e4eefb"/>
<path d="M352.00,265.40 C351.50,264.80 350.70,264.60 350.00,264.60 C348.40,264.60 347.60,265.90 347.60,267.70 C347.60,269.50 348.40,270.80 350.00,270.80 C350.70,270.80 351.50,270.60 352.00,270.00 M353.95,266.10 C354.15,265.10 355.05,264.60 356.05,264.60 C357.25,264.60 358.05,265.40 358.05,266.40 C358.05,267.40 357.35,268.00 356.35,268.80 L354.05,270.80 L358.45,270.80" fill="none" stroke="#7f7f7f" stroke-width="1.2"/>
<rect x="349.15" y="294.95" width="4.4" height="10.8" fill="#e4eefb"/>
<path d="M346.40,303.95 L349.35,297.15 L352.30,303.95 M347.60,301.65 H351.10 M354.40,298.45 L356.70,297.25 V303.95" fill="none" stroke="#7f7f7f" stroke-width="1.2"/>
<rect x="349.15" y="322.05" width="4.4" height="10.8" fill="#e4eefb"/>
<path d="M346.40,331.05 L349.35,324.25 L352.30,331.05 M347.60,328.75 H351.10 M354.00,325.85 C354.20,324.85 355.10,324.35 356.10,324.35 C357.30,324.35 358.10,325.15 358.10,326.15 C358.10,327.15 357.40,327.75 356.40,328.55 L354.10,330.55 L358.50,330.55" fill="none" stroke="#7f7f7f" stroke-width="1.2"/>
<rect x="367.25" y="239.25" width="27.10" height="9.30" rx="4.65" fill="#eef4fd" stroke="#ef7d1d" stroke-width="2.5"/>
<rect x="371.30" y="242.10" width="20.40" height="4.0" fill="#ef7d1d"/>
<rect x="367.25" y="265.55" width="27.10" height="9.30" rx="4.65" fill="#eef4fd" stroke="#ef7d1d" stroke-width="2.5"/>
<rect x="371.30" y="268.40" width="20.40" height="4.0" fill="#ef7d1d"/>
<rect x="361.40" y="293.10" width="38.80" height="14.50" rx="4.30" fill="#eef4fd" stroke="#0d0d0d" stroke-width="2.2"/>
<line x1="364.60" y1="304.00" x2="397.70" y2="304.00" stroke="#0d0d0d" stroke-width="1.8"/>
<rect x="361.40" y="322.10" width="38.80" height="14.50" rx="4.30" fill="#eef4fd" stroke="#0d0d0d" stroke-width="2.2"/>
<line x1="364.60" y1="332.40" x2="397.70" y2="332.40" stroke="#0d0d0d" stroke-width="3.0"/>
<line x1="395.30" y1="244.00" x2="414.50" y2="244.00" stroke="#ef7d1d" stroke-width="1.15"/>
<text x="415.50" y="249.10" font-size="14.3" fill="#ef7d1d" font-weight="normal" text-anchor="start" letter-spacing="1.5" stroke="#ef7d1d" stroke-width="0.45">65W</text>
<line x1="395.30" y1="270.30" x2="414.50" y2="270.30" stroke="#ef7d1d" stroke-width="1.15"/>
<text x="415.50" y="275.40" font-size="14.3" fill="#ef7d1d" font-weight="normal" text-anchor="start" letter-spacing="1.5" stroke="#ef7d1d" stroke-width="0.45">35W</text>
<rect x="493.10" y="219.50" width="71.10" height="133.00" rx="10.00" fill="#e4eefb" filter="url(#soft)"/>
<rect x="502.95" y="228.85" width="56.50" height="53.80" rx="7.50" fill="none" stroke="#8d8d8d" stroke-width="1.7"/>
<rect x="502.95" y="289.05" width="56.50" height="53.60" rx="7.50" fill="none" stroke="#8d8d8d" stroke-width="1.7"/>
<rect x="500.75" y="235.90" width="4.4" height="10.8" fill="#e4eefb"/>
<path d="M503.60,239.00 C503.10,238.40 502.30,238.20 501.60,238.20 C500.00,238.20 499.20,239.50 499.20,241.30 C499.20,243.10 500.00,244.40 501.60,244.40 C502.30,244.40 503.10,244.20 503.60,243.60 M505.95,239.40 L508.25,238.20 V244.90" fill="none" stroke="#7f7f7f" stroke-width="1.2"/>
<rect x="500.75" y="262.30" width="4.4" height="10.8" fill="#e4eefb"/>
<path d="M503.60,265.40 C503.10,264.80 502.30,264.60 501.60,264.60 C500.00,264.60 499.20,265.90 499.20,267.70 C499.20,269.50 500.00,270.80 501.60,270.80 C502.30,270.80 503.10,270.60 503.60,270.00 M505.55,266.10 C505.75,265.10 506.65,264.60 507.65,264.60 C508.85,264.60 509.65,265.40 509.65,266.40 C509.65,267.40 508.95,268.00 507.95,268.80 L505.65,270.80 L510.05,270.80" fill="none" stroke="#7f7f7f" stroke-width="1.2"/>
<rect x="500.75" y="294.95" width="4.4" height="10.8" fill="#e4eefb"/>
<path d="M498.00,303.95 L500.95,297.15 L503.90,303.95 M499.20,301.65 H502.70 M506.00,298.45 L508.30,297.25 V303.95" fill="none" stroke="#7f7f7f" stroke-width="1.2"/>
<rect x="500.75" y="322.05" width="4.4" height="10.8" fill="#e4eefb"/>
<path d="M498.00,331.05 L500.95,324.25 L503.90,331.05 M499.20,328.75 H502.70 M505.60,325.85 C505.80,324.85 506.70,324.35 507.70,324.35 C508.90,324.35 509.70,325.15 509.70,326.15 C509.70,327.15 509.00,327.75 508.00,328.55 L505.70,330.55 L510.10,330.55" fill="none" stroke="#7f7f7f" stroke-width="1.2"/>
<rect x="518.85" y="239.25" width="27.10" height="9.30" rx="4.65" fill="#eef4fd" stroke="#ef7d1d" stroke-width="2.5"/>
<rect x="522.90" y="242.10" width="20.40" height="4.0" fill="#ef7d1d"/>
<rect x="518.85" y="265.55" width="27.10" height="9.30" rx="4.65" fill="#eef4fd" stroke="#0d0d0d" stroke-width="2.5"/>
<rect x="522.90" y="268.40" width="20.40" height="4.0" fill="#0d0d0d"/>
<rect x="513.00" y="293.10" width="38.80" height="14.50" rx="4.30" fill="#eef4fd" stroke="#ef7d1d" stroke-width="2.2"/>
<line x1="516.20" y1="304.00" x2="549.30" y2="304.00" stroke="#ef7d1d" stroke-width="1.8"/>
<rect x="513.00" y="322.10" width="38.80" height="14.50" rx="4.30" fill="#eef4fd" stroke="#0d0d0d" stroke-width="2.2"/>
<line x1="516.20" y1="332.40" x2="549.30" y2="332.40" stroke="#0d0d0d" stroke-width="3.0"/>
<line x1="546.90" y1="244.00" x2="566.80" y2="244.00" stroke="#ef7d1d" stroke-width="1.15"/>
<text x="567.80" y="249.10" font-size="14.3" fill="#ef7d1d" font-weight="normal" text-anchor="start" letter-spacing="1.5" stroke="#ef7d1d" stroke-width="0.45">65W</text>
<line x1="552.60" y1="300.45" x2="564.50" y2="300.45" stroke="#ef7d1d" stroke-width="1.15"/>
<text x="565.50" y="305.55" font-size="14.3" fill="#ef7d1d" font-weight="normal" text-anchor="start" letter-spacing="1.5" stroke="#ef7d1d" stroke-width="0.45">18W</text>
<rect x="644.20" y="219.50" width="71.10" height="133.00" rx="10.00" fill="#e4eefb" filter="url(#soft)"/>
<rect x="654.05" y="228.85" width="56.50" height="53.80" rx="7.50" fill="none" stroke="#8d8d8d" stroke-width="1.7"/>
<rect x="654.05" y="289.05" width="56.50" height="53.60" rx="7.50" fill="none" stroke="#8d8d8d" stroke-width="1.7"/>
<rect x="651.85" y="235.90" width="4.4" height="10.8" fill="#e4eefb"/>
<path d="M654.70,239.00 C654.20,238.40 653.40,238.20 652.70,238.20 C651.10,238.20 650.30,239.50 650.30,241.30 C650.30,243.10 651.10,244.40 652.70,244.40 C653.40,244.40 654.20,244.20 654.70,243.60 M657.05,239.40 L659.35,238.20 V244.90" fill="none" stroke="#7f7f7f" stroke-width="1.2"/>
<rect x="651.85" y="262.30" width="4.4" height="10.8" fill="#e4eefb"/>
<path d="M654.70,265.40 C654.20,264.80 653.40,264.60 652.70,264.60 C651.10,264.60 650.30,265.90 650.30,267.70 C650.30,269.50 651.10,270.80 652.70,270.80 C653.40,270.80 654.20,270.60 654.70,270.00 M656.65,266.10 C656.85,265.10 657.75,264.60 658.75,264.60 C659.95,264.60 660.75,265.40 660.75,266.40 C660.75,267.40 660.05,268.00 659.05,268.80 L656.75,270.80 L661.15,270.80" fill="none" stroke="#7f7f7f" stroke-width="1.2"/>
<rect x="651.85" y="294.95" width="4.4" height="10.8" fill="#e4eefb"/>
<path d="M649.10,303.95 L652.05,297.15 L655.00,303.95 M650.30,301.65 H653.80 M657.10,298.45 L659.40,297.25 V303.95" fill="none" stroke="#7f7f7f" stroke-width="1.2"/>
<rect x="651.85" y="322.05" width="4.4" height="10.8" fill="#e4eefb"/>
<path d="M649.10,331.05 L652.05,324.25 L655.00,331.05 M650.30,328.75 H653.80 M656.70,325.85 C656.90,324.85 657.80,324.35 658.80,324.35 C660.00,324.35 660.80,325.15 660.80,326.15 C660.80,327.15 660.10,327.75 659.10,328.55 L656.80,330.55 L661.20,330.55" fill="none" stroke="#7f7f7f" stroke-width="1.2"/>
<rect x="669.95" y="239.25" width="27.10" height="9.30" rx="4.65" fill="#eef4fd" stroke="#ef7d1d" stroke-width="2.5"/>
<rect x="674.00" y="242.10" width="20.40" height="4.0" fill="#ef7d1d"/>
<rect x="669.95" y="265.55" width="27.10" height="9.30" rx="4.65" fill="#eef4fd" stroke="#0d0d0d" stroke-width="2.5"/>
<rect x="674.00" y="268.40" width="20.40" height="4.0" fill="#0d0d0d"/>
<rect x="664.10" y="293.10" width="38.80" height="14.50" rx="4.30" fill="#eef4fd" stroke="#0d0d0d" stroke-width="2.2"/>
<line x1="667.30" y1="304.00" x2="700.40" y2="304.00" stroke="#0d0d0d" stroke-width="1.8"/>
<rect x="664.10" y="322.10" width="38.80" height="14.50" rx="4.30" fill="#eef4fd" stroke="#ef7d1d" stroke-width="2.2"/>
<line x1="667.30" y1="332.40" x2="700.40" y2="332.40" stroke="#ef7d1d" stroke-width="3.0"/>
<line x1="698.00" y1="244.00" x2="717.20" y2="244.00" stroke="#ef7d1d" stroke-width="1.15"/>
<text x="718.20" y="249.10" font-size="14.3" fill="#ef7d1d" font-weight="normal" text-anchor="start" letter-spacing="1.5" stroke="#ef7d1d" stroke-width="0.45">65W</text>
<line x1="703.70" y1="329.45" x2="716.30" y2="329.45" stroke="#ef7d1d" stroke-width="1.15"/>
<text x="717.30" y="334.55" font-size="14.3" fill="#ef7d1d" font-weight="normal" text-anchor="start" letter-spacing="1.5" stroke="#ef7d1d" stroke-width="0.45">18W</text>
<rect x="341.50" y="363.50" width="71.10" height="133.00" rx="10.00" fill="#e4eefb" filter="url(#soft)"/>
<rect x="351.35" y="372.85" width="56.50" height="53.80" rx="7.50" fill="none" stroke="#8d8d8d" stroke-width="1.7"/>
<rect x="351.35" y="433.05" width="56.50" height="53.60" rx="7.50" fill="none" stroke="#8d8d8d" stroke-width="1.7"/>
<rect x="349.15" y="379.90" width="4.4" height="10.8" fill="#e4eefb"/>
<path d="M352.00,383.00 C351.50,382.40 350.70,382.20 350.00,382.20 C348.40,382.20 347.60,383.50 347.60,385.30 C347.60,387.10 348.40,388.40 350.00,388.40 C350.70,388.40 351.50,388.20 352.00,387.60 M354.35,383.40 L356.65,382.20 V388.90" fill="none" stroke="#7f7f7f" stroke-width="1.2"/>
<rect x="349.15" y="406.30" width="4.4" height="10.8" fill="#e4eefb"/>
<path d="M352.00,409.40 C351.50,408.80 350.70,408.60 350.00,408.60 C348.40,408.60 347.60,409.90 347.60,411.70 C347.60,413.50 348.40,414.80 350.00,414.80 C350.70,414.80 351.50,414.60 352.00,414.00 M353.95,410.10 C354.15,409.10 355.05,408.60 356.05,408.60 C357.25,408.60 358.05,409.40 358.05,410.40 C358.05,411.40 357.35,412.00 356.35,412.80 L354.05,414.80 L358.45,414.80" fill="none" stroke="#7f7f7f" stroke-width="1.2"/>
<rect x="349.15" y="438.95" width="4.4" height="10.8" fill="#e4eefb"/>
<path d="M346.40,447.95 L349.35,441.15 L352.30,447.95 M347.60,445.65 H351.10 M354.40,442.45 L356.70,441.25 V447.95" fill="none" stroke="#7f7f7f" stroke-width="1.2"/>
<rect x="349.15" y="466.05" width="4.4" height="10.8" fill="#e4eefb"/>
<path d="M346.40,475.05 L349.35,468.25 L352.30,475.05 M347.60,472.75 H351.10 M354.00,469.85 C354.20,468.85 355.10,468.35 356.10,468.35 C357.30,468.35 358.10,469.15 358.10,470.15 C358.10,471.15 357.40,471.75 356.40,472.55 L354.10,474.55 L358.50,474.55" fill="none" stroke="#7f7f7f" stroke-width="1.2"/>
<rect x="367.25" y="383.25" width="27.10" height="9.30" rx="4.65" fill="#eef4fd" stroke="#0d0d0d" stroke-width="2.5"/>
<rect x="371.30" y="386.10" width="20.40" height="4.0" fill="#0d0d0d"/>
<rect x="367.25" y="409.55" width="27.10" height="9.30" rx="4.65" fill="#eef4fd" stroke="#ef7d1d" stroke-width="2.5"/>
<rect x="371.30" y="412.40" width="20.40" height="4.0" fill="#ef7d1d"/>
<rect x="361.40" y="437.10" width="38.80" height="14.50" rx="4.30" fill="#eef4fd" stroke="#ef7d1d" stroke-width="2.2"/>
<line x1="364.60" y1="448.00" x2="397.70" y2="448.00" stroke="#ef7d1d" stroke-width="1.8"/>
<rect x="361.40" y="466.10" width="38.80" height="14.50" rx="4.30" fill="#eef4fd" stroke="#0d0d0d" stroke-width="2.2"/>
<line x1="364.60" y1="476.40" x2="397.70" y2="476.40" stroke="#0d0d0d" stroke-width="3.0"/>
<line x1="395.30" y1="414.30" x2="413.70" y2="414.30" stroke="#ef7d1d" stroke-width="1.15"/>
<text x="414.70" y="419.40" font-size="14.3" fill="#ef7d1d" font-weight="normal" text-anchor="start" letter-spacing="1.5" stroke="#ef7d1d" stroke-width="0.45">20W</text>
<line x1="401.00" y1="444.45" x2="413.70" y2="444.45" stroke="#ef7d1d" stroke-width="1.15"/>
<text x="414.70" y="449.55" font-size="14.3" fill="#ef7d1d" font-weight="normal" text-anchor="start" letter-spacing="1.5" stroke="#ef7d1d" stroke-width="0.45">18W</text>
<rect x="492.70" y="363.50" width="71.10" height="133.00" rx="10.00" fill="#e4eefb" filter="url(#soft)"/>
<rect x="502.55" y="372.85" width="56.50" height="53.80" rx="7.50" fill="none" stroke="#8d8d8d" stroke-width="1.7"/>
<rect x="502.55" y="433.05" width="56.50" height="53.60" rx="7.50" fill="none" stroke="#8d8d8d" stroke-width="1.7"/>
<rect x="500.35" y="379.90" width="4.4" height="10.8" fill="#e4eefb"/>
<path d="M503.20,383.00 C502.70,382.40 501.90,382.20 501.20,382.20 C499.60,382.20 498.80,383.50 498.80,385.30 C498.80,387.10 499.60,388.40 501.20,388.40 C501.90,388.40 502.70,388.20 503.20,387.60 M505.55,383.40 L507.85,382.20 V388.90" fill="none" stroke="#7f7f7f" stroke-width="1.2"/>
<rect x="500.35" y="406.30" width="4.4" height="10.8" fill="#e4eefb"/>
<path d="M503.20,409.40 C502.70,408.80 501.90,408.60 501.20,408.60 C499.60,408.60 498.80,409.90 498.80,411.70 C498.80,413.50 499.60,414.80 501.20,414.80 C501.90,414.80 502.70,414.60 503.20,414.00 M505.15,410.10 C505.35,409.10 506.25,408.60 507.25,408.60 C508.45,408.60 509.25,409.40 509.25,410.40 C509.25,411.40 508.55,412.00 507.55,412.80 L505.25,414.80 L509.65,414.80" fill="none" stroke="#7f7f7f" stroke-width="1.2"/>
<rect x="500.35" y="438.95" width="4.4" height="10.8" fill="#e4eefb"/>
<path d="M497.60,447.95 L500.55,441.15 L503.50,447.95 M498.80,445.65 H502.30 M505.60,442.45 L507.90,441.25 V447.95" fill="none" stroke="#7f7f7f" stroke-width="1.2"/>
<rect x="500.35" y="466.05" width="4.4" height="10.8" fill="#e4eefb"/>
<path d="M497.60,475.05 L500.55,468.25 L503.50,475.05 M498.80,472.75 H502.30 M505.20,469.85 C505.40,468.85 506.30,468.35 507.30,468.35 C508.50,468.35 509.30,469.15 509.30,470.15 C509.30,471.15 508.60,471.75 507.60,472.55 L505.30,474.55 L509.70,474.55" fill="none" stroke="#7f7f7f" stroke-width="1.2"/>
<rect x="518.45" y="383.25" width="27.10" height="9.30" rx="4.65" fill="#eef4fd" stroke="#0d0d0d" stroke-width="2.5"/>
<rect x="522.50" y="386.10" width="20.40" height="4.0" fill="#0d0d0d"/>
<rect x="518.45" y="409.55" width="27.10" height="9.30" rx="4.65" fill="#eef4fd" stroke="#ef7d1d" stroke-width="2.5"/>
<rect x="522.50" y="412.40" width="20.40" height="4.0" fill="#ef7d1d"/>
<rect x="512.60" y="437.10" width="38.80" height="14.50" rx="4.30" fill="#eef4fd" stroke="#0d0d0d" stroke-width="2.2"/>
<line x1="515.80" y1="448.00" x2="548.90" y2="448.00" stroke="#0d0d0d" stroke-width="1.8"/>
<rect x="512.60" y="466.10" width="38.80" height="14.50" rx="4.30" fill="#eef4fd" stroke="#ef7d1d" stroke-width="2.2"/>
<line x1="515.80" y1="476.40" x2="548.90" y2="476.40" stroke="#ef7d1d" stroke-width="3.0"/>
<line x1="546.50" y1="414.30" x2="566.30" y2="414.30" stroke="#ef7d1d" stroke-width="1.15"/>
<text x="567.30" y="419.40" font-size="14.3" fill="#ef7d1d" font-weight="normal" text-anchor="start" letter-spacing="1.5" stroke="#ef7d1d" stroke-width="0.45">20W</text>
<line x1="552.20" y1="473.45" x2="564.50" y2="473.45" stroke="#ef7d1d" stroke-width="1.15"/>
<text x="565.50" y="478.55" font-size="14.3" fill="#ef7d1d" font-weight="normal" text-anchor="start" letter-spacing="1.5" stroke="#ef7d1d" stroke-width="0.45">18W</text>
<rect x="643.45" y="363.50" width="71.10" height="133.00" rx="10.00" fill="#e4eefb" filter="url(#soft)"/>
<rect x="653.30" y="372.85" width="56.50" height="53.80" rx="7.50" fill="none" stroke="#8d8d8d" stroke-width="1.7"/>
<rect x="653.30" y="433.05" width="56.50" height="53.60" rx="7.50" fill="none" stroke="#8d8d8d" stroke-width="1.7"/>
<rect x="651.10" y="379.90" width="4.4" height="10.8" fill="#e4eefb"/>
<path d="M653.95,383.00 C653.45,382.40 652.65,382.20 651.95,382.20 C650.35,382.20 649.55,383.50 649.55,385.30 C649.55,387.10 650.35,388.40 651.95,388.40 C652.65,388.40 653.45,388.20 653.95,387.60 M656.30,383.40 L658.60,382.20 V388.90" fill="none" stroke="#7f7f7f" stroke-width="1.2"/>
<rect x="651.10" y="406.30" width="4.4" height="10.8" fill="#e4eefb"/>
<path d="M653.95,409.40 C653.45,408.80 652.65,408.60 651.95,408.60 C650.35,408.60 649.55,409.90 649.55,411.70 C649.55,413.50 650.35,414.80 651.95,414.80 C652.65,414.80 653.45,414.60 653.95,414.00 M655.90,410.10 C656.10,409.10 657.00,408.60 658.00,408.60 C659.20,408.60 660.00,409.40 660.00,410.40 C660.00,411.40 659.30,412.00 658.30,412.80 L656.00,414.80 L660.40,414.80" fill="none" stroke="#7f7f7f" stroke-width="1.2"/>
<rect x="651.10" y="438.95" width="4.4" height="10.8" fill="#e4eefb"/>
<path d="M648.35,447.95 L651.30,441.15 L654.25,447.95 M649.55,445.65 H653.05 M656.35,442.45 L658.65,441.25 V447.95" fill="none" stroke="#7f7f7f" stroke-width="1.2"/>
<rect x="651.10" y="466.05" width="4.4" height="10.8" fill="#e4eefb"/>
<path d="M648.35,475.05 L651.30,468.25 L654.25,475.05 M649.55,472.75 H653.05 M655.95,469.85 C656.15,468.85 657.05,468.35 658.05,468.35 C659.25,468.35 660.05,469.15 660.05,470.15 C660.05,471.15 659.35,471.75 658.35,472.55 L656.05,474.55 L660.45,474.55" fill="none" stroke="#7f7f7f" stroke-width="1.2"/>
<rect x="669.20" y="383.25" width="27.10" height="9.30" rx="4.65" fill="#eef4fd" stroke="#0d0d0d" stroke-width="2.5"/>
<rect x="673.25" y="386.10" width="20.40" height="4.0" fill="#0d0d0d"/>
<rect x="669.20" y="409.55" width="27.10" height="9.30" rx="4.65" fill="#eef4fd" stroke="#0d0d0d" stroke-width="2.5"/>
<rect x="673.25" y="412.40" width="20.40" height="4.0" fill="#0d0d0d"/>
<rect x="663.35" y="437.10" width="38.80" height="14.50" rx="4.30" fill="#eef4fd" stroke="#ef7d1d" stroke-width="2.2"/>
<line x1="666.55" y1="448.00" x2="699.65" y2="448.00" stroke="#ef7d1d" stroke-width="1.8"/>
<rect x="663.35" y="466.10" width="38.80" height="14.50" rx="4.30" fill="#eef4fd" stroke="#ef7d1d" stroke-width="2.2"/>
<line x1="666.55" y1="476.40" x2="699.65" y2="476.40" stroke="#ef7d1d" stroke-width="3.0"/>
<path d="M704.25,444.35 H714.25 V473.35 H704.25 M714.25,458.85 H717.70" fill="none" stroke="#f0893a" stroke-width="1.1"/>
<text x="718.20" y="464.05" font-size="14.3" fill="#ef7d1d" font-weight="normal" text-anchor="start" letter-spacing="0.7" stroke="#ef7d1d" stroke-width="0.45">15W</text>
<rect x="40.60" y="623.00" width="71.00" height="132.00" rx="10.00" fill="#e4eefb" filter="url(#soft)"/>
<rect x="48.60" y="631.85" width="58.80" height="53.60" rx="7.50" fill="none" stroke="#8d8d8d" stroke-width="1.7"/>
<rect x="48.60" y="691.15" width="58.80" height="54.00" rx="7.50" fill="none" stroke="#8d8d8d" stroke-width="1.7"/>
<rect x="46.40" y="638.60" width="4.4" height="10.8" fill="#e4eefb"/>
<path d="M50.40,641.70 C49.90,641.10 49.10,640.90 48.40,640.90 C46.80,640.90 46.00,642.20 46.00,644.00 C46.00,645.80 46.80,647.10 48.40,647.10 C49.10,647.10 49.90,646.90 50.40,646.30 M52.75,642.10 L55.05,640.90 V647.60" fill="none" stroke="#7f7f7f" stroke-width="1.2"/>
<rect x="46.40" y="665.70" width="4.4" height="10.8" fill="#e4eefb"/>
<path d="M50.40,668.80 C49.90,668.20 49.10,668.00 48.40,668.00 C46.80,668.00 46.00,669.30 46.00,671.10 C46.00,672.90 46.80,674.20 48.40,674.20 C49.10,674.20 49.90,674.00 50.40,673.40 M52.35,669.50 C52.55,668.50 53.45,668.00 54.45,668.00 C55.65,668.00 56.45,668.80 56.45,669.80 C56.45,670.80 55.75,671.40 54.75,672.20 L52.45,674.20 L56.85,674.20" fill="none" stroke="#7f7f7f" stroke-width="1.2"/>
<rect x="46.40" y="698.65" width="4.4" height="10.8" fill="#e4eefb"/>
<path d="M44.80,707.65 L47.75,700.85 L50.70,707.65 M46.00,705.35 H49.50 M52.80,702.15 L55.10,700.95 V707.65" fill="none" stroke="#7f7f7f" stroke-width="1.2"/>
<rect x="46.40" y="725.55" width="4.4" height="10.8" fill="#e4eefb"/>
<path d="M44.80,734.55 L47.75,727.75 L50.70,734.55 M46.00,732.25 H49.50 M52.40,729.35 C52.60,728.35 53.50,727.85 54.50,727.85 C55.70,727.85 56.50,728.65 56.50,729.65 C56.50,730.65 55.80,731.25 54.80,732.05 L52.50,734.05 L56.90,734.05" fill="none" stroke="#7f7f7f" stroke-width="1.2"/>
<rect x="65.45" y="641.25" width="27.50" height="9.30" rx="4.65" fill="#eef4fd" stroke="#ef7d1d" stroke-width="2.5"/>
<rect x="69.50" y="644.10" width="20.80" height="4.0" fill="#ef7d1d"/>
<rect x="65.45" y="668.25" width="27.50" height="9.30" rx="4.65" fill="#eef4fd" stroke="#ef7d1d" stroke-width="2.5"/>
<rect x="69.50" y="671.10" width="20.80" height="4.0" fill="#ef7d1d"/>
<rect x="59.80" y="696.10" width="38.80" height="14.50" rx="4.30" fill="#eef4fd" stroke="#ef7d1d" stroke-width="2.2"/>
<path d="M62.70,707.15 H96.70 Q97.90,707.65 98.10,708.50" fill="none" stroke="#ef7d1d" stroke-width="1.9"/>
<rect x="59.80" y="724.90" width="38.80" height="14.50" rx="4.30" fill="#eef4fd" stroke="#0d0d0d" stroke-width="2.2"/>
<path d="M62.70,735.95 H96.70 Q97.90,736.45 98.10,737.30" fill="none" stroke="#0d0d0d" stroke-width="1.9"/>
<line x1="93.90" y1="646.00" x2="115.40" y2="646.00" stroke="#ef7d1d" stroke-width="1.15"/>
<text x="116.40" y="651.10" font-size="14.3" fill="#ef7d1d" font-weight="normal" text-anchor="start" letter-spacing="1.5" stroke="#ef7d1d" stroke-width="0.45">65W</text>
<line x1="93.90" y1="673.00" x2="115.40" y2="673.00" stroke="#ef7d1d" stroke-width="1.15"/>
<text x="116.40" y="678.10" font-size="14.3" fill="#ef7d1d" font-weight="normal" text-anchor="start" letter-spacing="1.5" stroke="#ef7d1d" stroke-width="0.45">20W</text>
<line x1="99.40" y1="703.45" x2="115.40" y2="703.45" stroke="#ef7d1d" stroke-width="1.15"/>
<text x="116.40" y="708.55" font-size="14.3" fill="#ef7d1d" font-weight="normal" text-anchor="start" letter-spacing="1.5" stroke="#ef7d1d" stroke-width="0.45">18W</text>
<rect x="159.90" y="623.00" width="71.00" height="132.00" rx="10.00" fill="#e4eefb" filter="url(#soft)"/>
<rect x="167.90" y="631.85" width="58.80" height="53.60" rx="7.50" fill="none" stroke="#8d8d8d" stroke-width="1.7"/>
<rect x="167.90" y="691.15" width="58.80" height="54.00" rx="7.50" fill="none" stroke="#8d8d8d" stroke-width="1.7"/>
<rect x="165.70" y="638.60" width="4.4" height="10.8" fill="#e4eefb"/>
<path d="M169.70,641.70 C169.20,641.10 168.40,640.90 167.70,640.90 C166.10,640.90 165.30,642.20 165.30,644.00 C165.30,645.80 166.10,647.10 167.70,647.10 C168.40,647.10 169.20,646.90 169.70,646.30 M172.05,642.10 L174.35,640.90 V647.60" fill="none" stroke="#7f7f7f" stroke-width="1.2"/>
<rect x="165.70" y="665.70" width="4.4" height="10.8" fill="#e4eefb"/>
<path d="M169.70,668.80 C169.20,668.20 168.40,668.00 167.70,668.00 C166.10,668.00 165.30,669.30 165.30,671.10 C165.30,672.90 166.10,674.20 167.70,674.20 C168.40,674.20 169.20,674.00 169.70,673.40 M171.65,669.50 C171.85,668.50 172.75,668.00 173.75,668.00 C174.95,668.00 175.75,668.80 175.75,669.80 C175.75,670.80 175.05,671.40 174.05,672.20 L171.75,674.20 L176.15,674.20" fill="none" stroke="#7f7f7f" stroke-width="1.2"/>
<rect x="165.70" y="698.65" width="4.4" height="10.8" fill="#e4eefb"/>
<path d="M164.10,707.65 L167.05,700.85 L170.00,707.65 M165.30,705.35 H168.80 M172.10,702.15 L174.40,700.95 V707.65" fill="none" stroke="#7f7f7f" stroke-width="1.2"/>
<rect x="165.70" y="725.55" width="4.4" height="10.8" fill="#e4eefb"/>
<path d="M164.10,734.55 L167.05,727.75 L170.00,734.55 M165.30,732.25 H168.80 M171.70,729.35 C171.90,728.35 172.80,727.85 173.80,727.85 C175.00,727.85 175.80,728.65 175.80,729.65 C175.80,730.65 175.10,731.25 174.10,732.05 L171.80,734.05 L176.20,734.05" fill="none" stroke="#7f7f7f" stroke-width="1.2"/>
<rect x="184.75" y="641.25" width="27.50" height="9.30" rx="4.65" fill="#eef4fd" stroke="#ef7d1d" stroke-width="2.5"/>
<rect x="188.80" y="644.10" width="20.80" height="4.0" fill="#ef7d1d"/>
<rect x="184.75" y="668.25" width="27.50" height="9.30" rx="4.65" fill="#eef4fd" stroke="#ef7d1d" stroke-width="2.5"/>
<rect x="188.80" y="671.10" width="20.80" height="4.0" fill="#ef7d1d"/>
<rect x="179.10" y="696.10" width="38.80" height="14.50" rx="4.30" fill="#eef4fd" stroke="#0d0d0d" stroke-width="2.2"/>
<path d="M182.00,707.15 H216.00 Q217.20,707.65 217.40,708.50" fill="none" stroke="#0d0d0d" stroke-width="1.9"/>
<rect x="179.10" y="724.90" width="38.80" height="14.50" rx="4.30" fill="#eef4fd" stroke="#ef7d1d" stroke-width="2.2"/>
<path d="M182.00,735.95 H216.00 Q217.20,736.45 217.40,737.30" fill="none" stroke="#ef7d1d" stroke-width="1.9"/>
<line x1="213.20" y1="646.00" x2="232.90" y2="646.00" stroke="#ef7d1d" stroke-width="1.15"/>
<text x="236.40" y="651.10" font-size="14.3" fill="#ef7d1d" font-weight="normal" text-anchor="start" letter-spacing="1.5" stroke="#ef7d1d" stroke-width="0.45">65W</text>
<line x1="213.20" y1="673.00" x2="232.90" y2="673.00" stroke="#ef7d1d" stroke-width="1.15"/>
<text x="236.40" y="678.10" font-size="14.3" fill="#ef7d1d" font-weight="normal" text-anchor="start" letter-spacing="1.5" stroke="#ef7d1d" stroke-width="0.45">20W</text>
<line x1="218.70" y1="732.25" x2="232.90" y2="732.25" stroke="#ef7d1d" stroke-width="1.15"/>
<text x="236.40" y="737.35" font-size="14.3" fill="#ef7d1d" font-weight="normal" text-anchor="start" letter-spacing="1.5" stroke="#ef7d1d" stroke-width="0.45">18W</text>
<rect x="291.50" y="623.00" width="71.00" height="132.00" rx="10.00" fill="#e4eefb" filter="url(#soft)"/>
<rect x="299.50" y="631.85" width="58.80" height="53.60" rx="7.50" fill="none" stroke="#8d8d8d" stroke-width="1.7"/>
<rect x="299.50" y="691.15" width="58.80" height="54.00" rx="7.50" fill="none" stroke="#8d8d8d" stroke-width="1.7"/>
<rect x="297.30" y="638.60" width="4.4" height="10.8" fill="#e4eefb"/>
<path d="M301.30,641.70 C300.80,641.10 300.00,640.90 299.30,640.90 C297.70,640.90 296.90,642.20 296.90,644.00 C296.90,645.80 297.70,647.10 299.30,647.10 C300.00,647.10 300.80,646.90 301.30,646.30 M303.65,642.10 L305.95,640.90 V647.60" fill="none" stroke="#7f7f7f" stroke-width="1.2"/>
<rect x="297.30" y="665.70" width="4.4" height="10.8" fill="#e4eefb"/>
<path d="M301.30,668.80 C300.80,668.20 300.00,668.00 299.30,668.00 C297.70,668.00 296.90,669.30 296.90,671.10 C296.90,672.90 297.70,674.20 299.30,674.20 C300.00,674.20 300.80,674.00 301.30,673.40 M303.25,669.50 C303.45,668.50 304.35,668.00 305.35,668.00 C306.55,668.00 307.35,668.80 307.35,669.80 C307.35,670.80 306.65,671.40 305.65,672.20 L303.35,674.20 L307.75,674.20" fill="none" stroke="#7f7f7f" stroke-width="1.2"/>
<rect x="297.30" y="698.65" width="4.4" height="10.8" fill="#e4eefb"/>
<path d="M295.70,707.65 L298.65,700.85 L301.60,707.65 M296.90,705.35 H300.40 M303.70,702.15 L306.00,700.95 V707.65" fill="none" stroke="#7f7f7f" stroke-width="1.2"/>
<rect x="297.30" y="725.55" width="4.4" height="10.8" fill="#e4eefb"/>
<path d="M295.70,734.55 L298.65,727.75 L301.60,734.55 M296.90,732.25 H300.40 M303.30,729.35 C303.50,728.35 304.40,727.85 305.40,727.85 C306.60,727.85 307.40,728.65 307.40,729.65 C307.40,730.65 306.70,731.25 305.70,732.05 L303.40,734.05 L307.80,734.05" fill="none" stroke="#7f7f7f" stroke-width="1.2"/>
<rect x="316.35" y="641.25" width="27.50" height="9.30" rx="4.65" fill="#eef4fd" stroke="#ef7d1d" stroke-width="2.5"/>
<rect x="320.40" y="644.10" width="20.80" height="4.0" fill="#ef7d1d"/>
<rect x="316.35" y="668.25" width="27.50" height="9.30" rx="4.65" fill="#eef4fd" stroke="#0d0d0d" stroke-width="2.5"/>
<rect x="320.40" y="671.10" width="20.80" height="4.0" fill="#0d0d0d"/>
<rect x="310.70" y="696.10" width="38.80" height="14.50" rx="4.30" fill="#eef4fd" stroke="#ef7d1d" stroke-width="2.2"/>
<path d="M313.60,707.15 H347.60 Q348.80,707.65 349.00,708.50" fill="none" stroke="#ef7d1d" stroke-width="1.9"/>
<rect x="310.70" y="724.90" width="38.80" height="14.50" rx="4.30" fill="#eef4fd" stroke="#ef7d1d" stroke-width="2.2"/>
<path d="M313.60,735.95 H347.60 Q348.80,736.45 349.00,737.30" fill="none" stroke="#ef7d1d" stroke-width="1.9"/>
<line x1="344.80" y1="646.00" x2="364.50" y2="646.00" stroke="#ef7d1d" stroke-width="1.15"/>
<text x="365.50" y="651.10" font-size="14.3" fill="#ef7d1d" font-weight="normal" text-anchor="start" letter-spacing="1.5" stroke="#ef7d1d" stroke-width="0.45">65W</text>
<path d="M351.60,703.35 H361.90 V732.15 H351.60 M361.90,717.75 H370.30" fill="none" stroke="#f0893a" stroke-width="1.1"/>
<text x="370.80" y="722.95" font-size="14.3" fill="#ef7d1d" font-weight="normal" text-anchor="start" letter-spacing="0.7" stroke="#ef7d1d" stroke-width="0.45">15W</text>
<rect x="422.30" y="623.00" width="71.00" height="132.00" rx="10.00" fill="#e4eefb" filter="url(#soft)"/>
<rect x="430.30" y="631.85" width="58.80" height="53.60" rx="7.50" fill="none" stroke="#8d8d8d" stroke-width="1.7"/>
<rect x="430.30" y="691.15" width="58.80" height="54.00" rx="7.50" fill="none" stroke="#8d8d8d" stroke-width="1.7"/>
<rect x="428.10" y="638.60" width="4.4" height="10.8" fill="#e4eefb"/>
<path d="M432.10,641.70 C431.60,641.10 430.80,640.90 430.10,640.90 C428.50,640.90 427.70,642.20 427.70,644.00 C427.70,645.80 428.50,647.10 430.10,647.10 C430.80,647.10 431.60,646.90 432.10,646.30 M434.45,642.10 L436.75,640.90 V647.60" fill="none" stroke="#7f7f7f" stroke-width="1.2"/>
<rect x="428.10" y="665.70" width="4.4" height="10.8" fill="#e4eefb"/>
<path d="M432.10,668.80 C431.60,668.20 430.80,668.00 430.10,668.00 C428.50,668.00 427.70,669.30 427.70,671.10 C427.70,672.90 428.50,674.20 430.10,674.20 C430.80,674.20 431.60,674.00 432.10,673.40 M434.05,669.50 C434.25,668.50 435.15,668.00 436.15,668.00 C437.35,668.00 438.15,668.80 438.15,669.80 C438.15,670.80 437.45,671.40 436.45,672.20 L434.15,674.20 L438.55,674.20" fill="none" stroke="#7f7f7f" stroke-width="1.2"/>
<rect x="428.10" y="698.65" width="4.4" height="10.8" fill="#e4eefb"/>
<path d="M426.50,707.65 L429.45,700.85 L432.40,707.65 M427.70,705.35 H431.20 M434.50,702.15 L436.80,700.95 V707.65" fill="none" stroke="#7f7f7f" stroke-width="1.2"/>
<rect x="428.10" y="725.55" width="4.4" height="10.8" fill="#e4eefb"/>
<path d="M426.50,734.55 L429.45,727.75 L432.40,734.55 M427.70,732.25 H431.20 M434.10,729.35 C434.30,728.35 435.20,727.85 436.20,727.85 C437.40,727.85 438.20,728.65 438.20,729.65 C438.20,730.65 437.50,731.25 436.50,732.05 L434.20,734.05 L438.60,734.05" fill="none" stroke="#7f7f7f" stroke-width="1.2"/>
<rect x="447.15" y="641.25" width="27.50" height="9.30" rx="4.65" fill="#eef4fd" stroke="#0d0d0d" stroke-width="2.5"/>
<rect x="451.20" y="644.10" width="20.80" height="4.0" fill="#0d0d0d"/>
<rect x="447.15" y="668.25" width="27.50" height="9.30" rx="4.65" fill="#eef4fd" stroke="#ef7d1d" stroke-width="2.5"/>
<rect x="451.20" y="671.10" width="20.80" height="4.0" fill="#ef7d1d"/>
<rect x="441.50" y="696.10" width="38.80" height="14.50" rx="4.30" fill="#eef4fd" stroke="#ef7d1d" stroke-width="2.2"/>
<path d="M444.40,707.15 H478.40 Q479.60,707.65 479.80,708.50" fill="none" stroke="#ef7d1d" stroke-width="1.9"/>
<rect x="441.50" y="724.90" width="38.80" height="14.50" rx="4.30" fill="#eef4fd" stroke="#ef7d1d" stroke-width="2.2"/>
<path d="M444.40,735.95 H478.40 Q479.60,736.45 479.80,737.30" fill="none" stroke="#ef7d1d" stroke-width="1.9"/>
<line x1="475.60" y1="673.00" x2="495.40" y2="673.00" stroke="#ef7d1d" stroke-width="1.15"/>
<text x="496.40" y="678.10" font-size="14.3" fill="#ef7d1d" font-weight="normal" text-anchor="start" letter-spacing="1.5" stroke="#ef7d1d" stroke-width="0.45">20W</text>
<path d="M482.40,703.35 H493.60 V732.15 H482.40 M493.60,717.75 H501.20" fill="none" stroke="#f0893a" stroke-width="1.1"/>
<text x="501.70" y="722.95" font-size="14.3" fill="#ef7d1d" font-weight="normal" text-anchor="start" letter-spacing="0.7" stroke="#ef7d1d" stroke-width="0.45">15W</text>
<rect x="579.00" y="623.00" width="71.00" height="132.00" rx="10.00" fill="#e4eefb" filter="url(#soft)"/>
<rect x="587.00" y="631.85" width="58.80" height="53.60" rx="7.50" fill="none" stroke="#8d8d8d" stroke-width="1.7"/>
<rect x="587.00" y="691.15" width="58.80" height="54.00" rx="7.50" fill="none" stroke="#8d8d8d" stroke-width="1.7"/>
<rect x="584.80" y="638.60" width="4.4" height="10.8" fill="#e4eefb"/>
<path d="M588.80,641.70 C588.30,641.10 587.50,640.90 586.80,640.90 C585.20,640.90 584.40,642.20 584.40,644.00 C584.40,645.80 585.20,647.10 586.80,647.10 C587.50,647.10 588.30,646.90 588.80,646.30 M591.15,642.10 L593.45,640.90 V647.60" fill="none" stroke="#7f7f7f" stroke-width="1.2"/>
<rect x="584.80" y="665.70" width="4.4" height="10.8" fill="#e4eefb"/>
<path d="M588.80,668.80 C588.30,668.20 587.50,668.00 586.80,668.00 C585.20,668.00 584.40,669.30 584.40,671.10 C584.40,672.90 585.20,674.20 586.80,674.20 C587.50,674.20 588.30,674.00 588.80,673.40 M590.75,669.50 C590.95,668.50 591.85,668.00 592.85,668.00 C594.05,668.00 594.85,668.80 594.85,669.80 C594.85,670.80 594.15,671.40 593.15,672.20 L590.85,674.20 L595.25,674.20" fill="none" stroke="#7f7f7f" stroke-width="1.2"/>
<rect x="584.80" y="698.65" width="4.4" height="10.8" fill="#e4eefb"/>
<path d="M583.20,707.65 L586.15,700.85 L589.10,707.65 M584.40,705.35 H587.90 M591.20,702.15 L593.50,700.95 V707.65" fill="none" stroke="#7f7f7f" stroke-width="1.2"/>
<rect x="584.80" y="725.55" width="4.4" height="10.8" fill="#e4eefb"/>
<path d="M583.20,734.55 L586.15,727.75 L589.10,734.55 M584.40,732.25 H587.90 M590.80,729.35 C591.00,728.35 591.90,727.85 592.90,727.85 C594.10,727.85 594.90,728.65 594.90,729.65 C594.90,730.65 594.20,731.25 593.20,732.05 L590.90,734.05 L595.30,734.05" fill="none" stroke="#7f7f7f" stroke-width="1.2"/>
<rect x="603.85" y="641.25" width="27.50" height="9.30" rx="4.65" fill="#eef4fd" stroke="#ef7d1d" stroke-width="2.5"/>
<rect x="607.90" y="644.10" width="20.80" height="4.0" fill="#ef7d1d"/>
<rect x="603.85" y="668.25" width="27.50" height="9.30" rx="4.65" fill="#eef4fd" stroke="#ef7d1d" stroke-width="2.5"/>
<rect x="607.90" y="671.10" width="20.80" height="4.0" fill="#ef7d1d"/>
<rect x="598.20" y="696.10" width="38.80" height="14.50" rx="4.30" fill="#eef4fd" stroke="#ef7d1d" stroke-width="2.2"/>
<path d="M600.90,706.00 H635.60 V708.70 Q635.10,710.10 632.10,710.30 H602.60 Q600.90,710.10 600.90,708.70 Z" fill="#ef7d1d"/>
<rect x="598.20" y="724.90" width="38.80" height="14.50" rx="4.30" fill="#eef4fd" stroke="#ef7d1d" stroke-width="2.2"/>
<path d="M600.90,734.80 H635.60 V737.50 Q635.10,738.90 632.10,739.10 H602.60 Q600.90,738.90 600.90,737.50 Z" fill="#ef7d1d"/>
<line x1="632.30" y1="646.00" x2="653.80" y2="646.00" stroke="#ef7d1d" stroke-width="1.15"/>
<text x="657.30" y="651.10" font-size="14.3" fill="#ef7d1d" font-weight="normal" text-anchor="start" letter-spacing="1.5" stroke="#ef7d1d" stroke-width="0.45">65W</text>
<line x1="632.30" y1="673.00" x2="653.80" y2="673.00" stroke="#ef7d1d" stroke-width="1.15"/>
<text x="657.30" y="678.10" font-size="14.3" fill="#ef7d1d" font-weight="normal" text-anchor="start" letter-spacing="1.5" stroke="#ef7d1d" stroke-width="0.45">20W</text>
<path d="M639.10,702.45 H652.10 V733.05 H639.10 M652.10,719.55 H661.20" fill="none" stroke="#f0893a" stroke-width="1.1"/>
<text x="661.70" y="724.75" font-size="14.3" fill="#ef7d1d" font-weight="normal" text-anchor="start" letter-spacing="0.7" stroke="#ef7d1d" stroke-width="0.45">15W</text>
</svg></body></html>
